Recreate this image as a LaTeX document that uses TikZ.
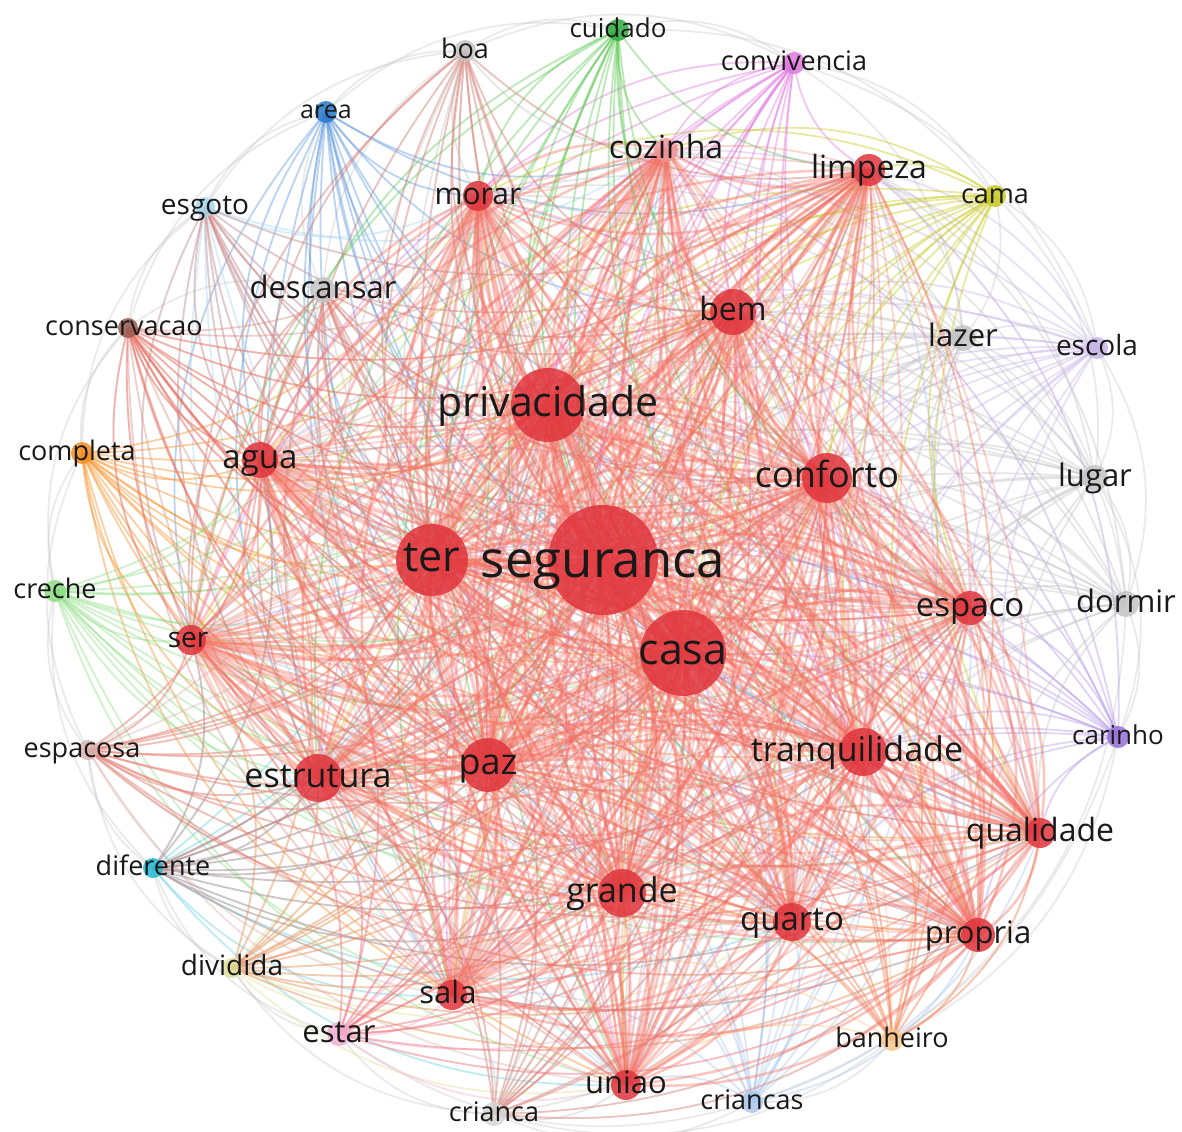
\documentclass[tikz,border=0pt]{standalone}
\usepackage{fontspec}
\setmainfont{Open Sans}
\usepackage{tikz}

\definecolor{cred}{RGB}{224,52,60}
\definecolor{ered}{RGB}{245,112,98}
\definecolor{cpink}{RGB}{238,150,150}
\definecolor{cgray}{RGB}{196,196,196}
\definecolor{cblue}{RGB}{40,120,205}
\definecolor{eblue}{RGB}{90,150,220}
\definecolor{cltblue}{RGB}{165,215,238}
\definecolor{csteel}{RGB}{170,198,235}
\definecolor{cgreen}{RGB}{45,170,60}
\definecolor{egreen}{RGB}{95,200,85}
\definecolor{cltgreen}{RGB}{140,220,130}
\definecolor{cmagenta}{RGB}{222,120,222}
\definecolor{cltpink}{RGB}{240,175,210}
\definecolor{cyellow}{RGB}{200,200,30}
\definecolor{cltyellow}{RGB}{222,222,150}
\definecolor{cltpurple}{RGB}{200,180,232}
\definecolor{cpurple}{RGB}{150,110,215}
\definecolor{epurple}{RGB}{180,150,230}
\definecolor{corange}{RGB}{245,140,30}
\definecolor{cltorange}{RGB}{250,200,140}
\definecolor{cbrown}{RGB}{150,90,80}
\definecolor{ebrown}{RGB}{215,140,130}
\definecolor{cltbrown}{RGB}{215,180,175}
\definecolor{ccyan}{RGB}{30,185,210}
\definecolor{ecyan}{RGB}{100,205,225}
\definecolor{ctext}{RGB}{25,25,25}

\pgfdeclarelayer{links}
\pgfsetlayers{links,main}

\tikzset{
  word/.style={circle, inner sep=0pt, minimum size=#1*0.5pt, fill opacity=0.85, draw=none},
  wlbl/.style={font=\fontsize{\fpeval{#1/2}}{\fpeval{#1/2}}\selectfont, text=ctext,
               inner sep=0pt, text height=\fpeval{0.54*#1/2}pt, text depth=0pt, text opacity=1},
  link/.style={line width=0.9pt, opacity=0.36},
}

\def\reds{seguranca,casa,ter,privacidade,conforto,paz,tranquilidade,bem,grande,
  estrutura,quarto,agua,espaco,qualidade,propria,ser,sala,uniao,limpeza,morar,cozinha}

\begin{document}
\begin{tikzpicture}[x=0.5pt, y=-0.5pt]
  \useasboundingbox (0,0) rectangle (1182,1131);

  \node[word=26, fill=cgray,     label={[wlbl=31]center:descansar}]    (descansar)    at ( 323, 290) {};
  \node[word=26, fill=cgray,     label={[wlbl=31]center:lazer}]        (lazer)        at ( 963, 338) {};
  \node[word=26, fill=cgray,     label={[wlbl=31]center:lugar}]        (lugar)        at (1095, 478) {};
  \node[word=26, fill=cgray,     label={[wlbl=31]center:dormir}]       (dormir)       at (1126, 604) {};
  \node[word=22, fill=cgray,     label={[wlbl=27]center:boa}]          (boa)          at ( 465,  51) {};
  \node[word=22, fill=cblue,     label={[wlbl=25]center:area}]         (area)         at ( 326, 112) {};
  \node[word=20, fill=cltblue,   label={[wlbl=28]center:esgoto}]       (esgoto)       at ( 205, 207) {};
  \node[word=20, fill=cbrown,    label={[wlbl=27, xshift=-2]center:conservacao}] (conservacao) at ( 128, 328) {};
  \node[word=22, fill=corange,   label={[wlbl=27, xshift=-2.5]center:completa}]  (completa)    at (  82, 453) {};
  \node[word=22, fill=cltgreen,  label={[wlbl=27]center:creche}]       (creche)       at (  55, 591) {};
  \node[word=20, fill=cltbrown,  label={[wlbl=27, xshift=-3]center:espacosa}]    (espacosa)    at (  88, 750) {};
  \node[word=20, fill=ccyan,     label={[wlbl=27]center:diferente}]    (diferente)    at ( 153, 868) {};
  \node[word=20, fill=cltyellow, label={[wlbl=28]center:dividida}]     (dividida)     at ( 232, 968) {};
  \node[word=24, fill=cltpink,   label={[wlbl=31]center:estar}]        (estar)        at ( 339, 1034) {};
  \node[word=24, fill=cgray!70,  label={[wlbl=27]center:crianca}]      (crianca)      at ( 494, 1114) {};
  \node[word=22, fill=csteel,    label={[wlbl=27]center:criancas}]     (criancas)     at ( 752, 1102) {};
  \node[word=22, fill=cltorange, label={[wlbl=27]center:banheiro}]     (banheiro)     at ( 892, 1040) {};
  \node[word=22, fill=cpurple,   label={[wlbl=26]center:carinho}]      (carinho)      at (1118, 737) {};
  \node[word=22, fill=cltpurple, label={[wlbl=28]center:escola}]       (escola)       at (1097, 348) {};
  \node[word=22, fill=cyellow,   label={[wlbl=27]center:cama}]         (cama)         at ( 995, 196) {};
  \node[word=22, fill=cmagenta,  label={[wlbl=27]center:convivencia}]  (convivencia)  at ( 794,  63) {};
  \node[word=22, fill=cgreen,    label={[wlbl=26]center:cuidado}]      (cuidado)      at ( 618,  30) {};

  \node[word=24, fill=cpink,     label={[wlbl=32]center:cozinha}]      (cozinha)      at ( 666, 150) {};
  \node[word=30, fill=cred,      label={[wlbl=30]center:morar}]        (morar)        at ( 478, 196) {};
  \node[word=32, fill=cred,      label={[wlbl=32]center:limpeza}]      (limpeza)      at ( 869, 170) {};
  \node[word=30, fill=cred,      label={[wlbl=31]center:uniao}]        (uniao)        at ( 626, 1085) {};
  \node[word=30, fill=cred,      label={[wlbl=31, xshift=-2]center:sala}]        (sala)        at ( 452, 995) {};
  \node[word=30, fill=cred,      label={[wlbl=28, xshift=-1.5]center:ser}]       (ser)         at ( 191, 640) {};
  \node[word=34, fill=cred,      label={[wlbl=31]center:propria}]      (propria)      at ( 978, 935) {};
  \node[word=30, fill=cred,      label={[wlbl=32]center:qualidade}]    (qualidade)    at (1040, 833) {};
  \node[word=34, fill=cred,      label={[wlbl=33]center:espaco}]       (espaco)       at ( 970, 608) {};
  \node[word=36, fill=cred,      label={[wlbl=33]center:agua}]         (agua)         at ( 260, 460) {};
  \node[word=38, fill=cred,      label={[wlbl=33]center:quarto}]       (quarto)       at ( 792, 922) {};
  \node[word=48, fill=cred,      label={[wlbl=34]center:estrutura}]    (estrutura)    at ( 318, 778) {};
  \node[word=48, fill=cred,      label={[wlbl=34]center:grande}]       (grande)       at ( 622, 893) {};
  \node[word=46, fill=cred,      label={[wlbl=32]center:bem}]          (bem)          at ( 733, 312) {};
  \node[word=48, fill=cred,      label={[wlbl=34, xshift=-3]center:tranquilidade}] (tranquilidade) at ( 863, 752) {};
  \node[word=54, fill=cred,      label={[wlbl=36]center:paz}]          (paz)          at ( 488, 765) {};
  \node[word=50, fill=cred,      label={[wlbl=36]center:conforto}]     (conforto)     at ( 827, 478) {};
  \node[word=74, fill=cred,      label={[wlbl=41]center:privacidade}]  (privacidade)  at ( 548, 405) {};
  \node[word=72, fill=cred,      label={[wlbl=43]center:ter}]          (ter)          at ( 432, 560) {};
  \node[word=86, fill=cred,      label={[wlbl=43]center:casa}]         (casa)         at ( 683, 653) {};
  \node[word=110, fill=cred,     label={[wlbl=51, yshift=-2]center:seguranca}] (seguranca) at ( 603, 560) {};

  \begin{pgfonlayer}{links}
    \foreach \a/\b in {cuidado/convivencia, cuidado/cama, convivencia/cama,
                       convivencia/escola, cama/escola, cama/lugar, escola/lugar,
                       escola/dormir, lugar/dormir, lugar/carinho, dormir/carinho,
                       dormir/banheiro, carinho/banheiro, carinho/criancas,
                       banheiro/criancas, banheiro/crianca, criancas/crianca,
                       criancas/estar, crianca/estar, crianca/dividida,
                       estar/dividida, estar/diferente, dividida/diferente,
                       dividida/espacosa, diferente/espacosa, diferente/creche,
                       espacosa/creche, espacosa/completa, creche/completa,
                       creche/conservacao, completa/conservacao, completa/esgoto,
                       conservacao/esgoto, conservacao/area, esgoto/area,
                       esgoto/boa, area/boa, area/cuidado, boa/cuidado,
                       boa/convivencia, descansar/area, descansar/boa,
                       conservacao/descansar, cama/lazer, lazer/escola,
                       lazer/lugar, lazer/dormir, convivencia/lazer} {
      \draw[link, cgray] (\a.center) to[bend left=26] (\b.center);
    }
    \foreach \w/\col in {boa/cgray, area/eblue, esgoto/cltblue, conservacao/ebrown,
                         completa/corange, creche/cltgreen, espacosa/cltbrown,
                         diferente/ecyan, dividida/cltyellow, estar/cltpink,
                         crianca/cgray, criancas/csteel, banheiro/cltorange,
                         carinho/epurple, dormir/cgray, lugar/cgray, escola/cltpurple,
                         cama/cyellow, convivencia/cmagenta, cuidado/egreen,
                         descansar/cgray, lazer/cgray} {
      \foreach \t in \reds {
        \draw[link, \col, opacity=0.42] (\w.center) to[bend right=26] (\t.center);
      }
    }
    \foreach \w in {boa,esgoto,conservacao,espacosa,diferente,dividida,estar,
                    banheiro,crianca,descansar} {
      \foreach \t in {seguranca,casa,ter,privacidade,paz,conforto,bem,grande,
                      estrutura,tranquilidade,qualidade,propria,espaco,ser,agua,limpeza} {
        \draw[link, ered, opacity=0.3] (\t.center) to[bend left=26] (\w.center);
      }
    }
    \foreach \a [count=\i] in \reds {
      \foreach \b [count=\j] in \reds {
        \ifnum\j>\i
          \draw[link, ered, line width=1.3pt, opacity=0.4] (\a.center) to[bend left=26] (\b.center);
          \draw[link, ered, opacity=0.3] (\a.center) to[bend right=12] (\b.center);
        \fi
      }
    }
    \foreach \a in {seguranca,casa,ter,privacidade,paz,conforto} {
      \foreach \b in \reds {
        \ifx\a\b\else \draw[link, ered, line width=1.5pt] (\b.center) to[bend right=20] (\a.center); \fi
      }
    }
  \end{pgfonlayer}
\end{tikzpicture}
\end{document}
